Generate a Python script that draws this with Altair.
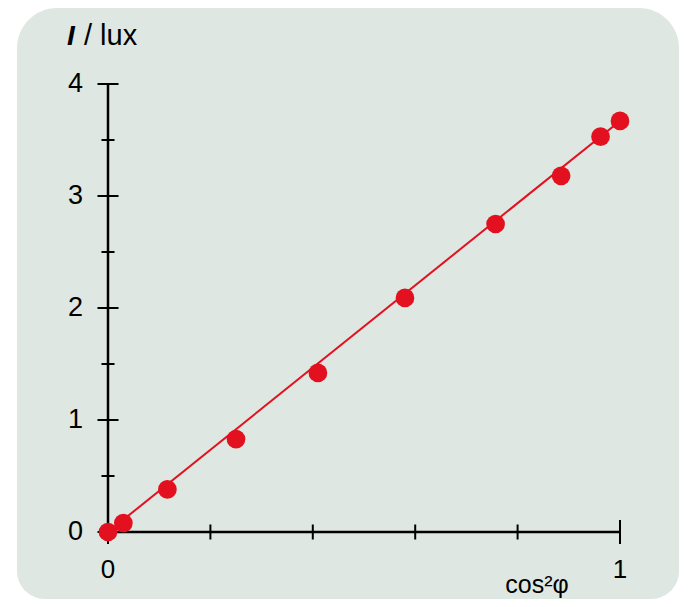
import altair as alt
import pandas as pd

# ---- data ----
cos2_phi = [0.0, 0.030, 0.116, 0.250, 0.410, 0.580, 0.757, 0.885, 0.962, 1.0]
intensity = [0.0, 0.08, 0.38, 0.83, 1.42, 2.09, 2.75, 3.18, 3.53, 3.67]
fit_x = [0.0, 1.0]
fit_y = [0.0, 3.67]
y_major = [0, 1, 2, 3, 4]
y_minor = [0.5, 1.5, 2.5, 3.5]
x_major = [0, 1]
x_minor = [0.2, 0.4, 0.6, 0.8]
y_labels = ["0", "1", "2", "3", "4"]
x_labels = ["0", "1"]

RED = "#e3101f"
BG = "#dee7e1"
FONT = "Liberation Sans"

xs = alt.Scale(domain=[0, 1], nice=False, zero=False)
ys = alt.Scale(domain=[0, 4], nice=False, zero=False)
one = pd.DataFrame({"a": [0]})

bg = alt.Chart(one).mark_rect(
    color=BG, cornerRadiusTopLeft=40, cornerRadiusTopRight=40,
    cornerRadiusBottomLeft=28, cornerRadiusBottomRight=28
).encode(x=alt.value(-91), x2=alt.value(571), y=alt.value(-76), y2=alt.value(515))

# axis lines
yaxis_line = alt.Chart(pd.DataFrame({"x": [0.0], "y": [0.0], "y2": [4.0]})).mark_rule(
    color="black", strokeWidth=2.5
).encode(x=alt.X("x:Q", scale=xs, axis=None), y=alt.Y("y:Q", scale=ys, axis=None), y2="y2:Q")
xaxis_line = alt.Chart(pd.DataFrame({"x": [0.0], "x2": [1.0], "y": [0.0]})).mark_rule(
    color="black", strokeWidth=2.5
).encode(x=alt.X("x:Q", scale=xs, axis=None), x2="x2:Q", y=alt.Y("y:Q", scale=ys, axis=None))

# ticks
y_maj_t = alt.Chart(pd.DataFrame({"v": y_major})).mark_rule(color="black", strokeWidth=2).encode(
    y=alt.Y("v:Q", scale=ys, axis=None), x=alt.value(-10.5), x2=alt.value(10.5))
y_min_t = alt.Chart(pd.DataFrame({"v": y_minor})).mark_rule(color="black", strokeWidth=2).encode(
    y=alt.Y("v:Q", scale=ys, axis=None), x=alt.value(-6.5), x2=alt.value(6.5))
x_maj_t = alt.Chart(pd.DataFrame({"v": x_major})).mark_rule(color="black", strokeWidth=2).encode(
    x=alt.X("v:Q", scale=xs, axis=None), y=alt.value(448 - 12), y2=alt.value(448 + 12))
x_min_t = alt.Chart(pd.DataFrame({"v": x_minor})).mark_rule(color="black", strokeWidth=2).encode(
    x=alt.X("v:Q", scale=xs, axis=None), y=alt.value(448 - 7.5), y2=alt.value(448 + 7.5))

# tick labels
y_lab = alt.Chart(pd.DataFrame({"v": y_major, "t": y_labels})).mark_text(
    font=FONT, fontSize=27, color="black", align="right", baseline="middle"
).encode(y=alt.Y("v:Q", scale=ys, axis=None), x=alt.value(-25), text="t:N")
x_lab = alt.Chart(pd.DataFrame({"v": x_major, "t": x_labels})).mark_text(
    font=FONT, fontSize=26, color="black", align="center", baseline="alphabetic"
).encode(x=alt.X("v:Q", scale=xs, axis=None), y=alt.value(448 + 46), text="t:N")

# axis titles
t_I = alt.Chart(one).mark_text(
    text="I", font=FONT, fontSize=28, fontStyle="italic", fontWeight="bold",
    color="black", align="left", baseline="alphabetic"
).encode(x=alt.value(-41), y=alt.value(-39))
t_lux = alt.Chart(one).mark_text(
    text="/ lux", font=FONT, fontSize=29,
    color="black", align="left", baseline="alphabetic"
).encode(x=alt.value(-24), y=alt.value(-39))
t_cos = alt.Chart(one).mark_text(
    text="cos²φ", font=FONT, fontSize=25,
    color="black", align="center", baseline="alphabetic"
).encode(x=alt.value(429), y=alt.value(509))

# data
fit = alt.Chart(pd.DataFrame({"x": fit_x, "y": fit_y})).mark_line(
    color=RED, strokeWidth=2
).encode(x=alt.X("x:Q", scale=xs, axis=None), y=alt.Y("y:Q", scale=ys, axis=None))
pts = alt.Chart(pd.DataFrame({"x": cos2_phi, "y": intensity})).mark_circle(
    color=RED, opacity=1, size=350
).encode(x=alt.X("x:Q", scale=xs, axis=None), y=alt.Y("y:Q", scale=ys, axis=None))

chart = alt.layer(
    bg, yaxis_line, xaxis_line, y_maj_t, y_min_t, x_maj_t, x_min_t,
    y_lab, x_lab, t_I, t_lux, t_cos, fit, pts
).properties(
    width=512, height=448,
    autosize=alt.AutoSizeParams(type="none"),
    padding={"left": 100, "top": 76, "right": 68, "bottom": 67},
    background="white",
).configure_view(stroke=None)

chart.save("out.html", embed_options={"renderer": "svg", "actions": False})
